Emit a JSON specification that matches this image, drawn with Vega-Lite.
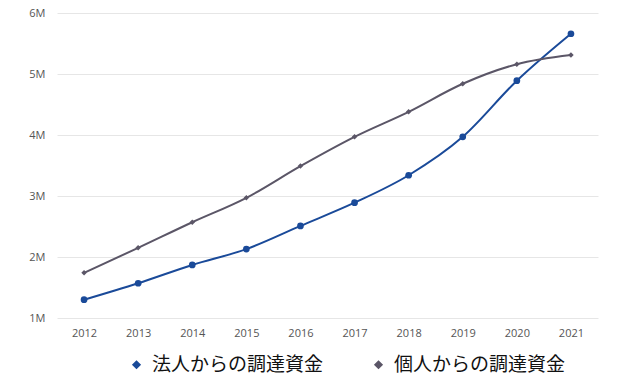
{
  "$schema": "https://vega.github.io/schema/vega-lite/v6.json",
  "width": 541,
  "height": 305,
  "autosize": "none",
  "padding": {"left": 57, "top": 13, "right": 42, "bottom": 71},
  "background": "white",
  "config": {"view": {"stroke": null}},
  "data": {
    "values": [
      {"year": "2012", "series": "法人からの調達資金", "value": 1300000},
      {"year": "2013", "series": "法人からの調達資金", "value": 1570000},
      {"year": "2014", "series": "法人からの調達資金", "value": 1870000},
      {"year": "2015", "series": "法人からの調達資金", "value": 2130000},
      {"year": "2016", "series": "法人からの調達資金", "value": 2510000},
      {"year": "2017", "series": "法人からの調達資金", "value": 2890000},
      {"year": "2018", "series": "法人からの調達資金", "value": 3340000},
      {"year": "2019", "series": "法人からの調達資金", "value": 3970000},
      {"year": "2020", "series": "法人からの調達資金", "value": 4890000},
      {"year": "2021", "series": "法人からの調達資金", "value": 5660000},
      {"year": "2012", "series": "個人からの調達資金", "value": 1740000},
      {"year": "2013", "series": "個人からの調達資金", "value": 2150000},
      {"year": "2014", "series": "個人からの調達資金", "value": 2570000},
      {"year": "2015", "series": "個人からの調達資金", "value": 2970000},
      {"year": "2016", "series": "個人からの調達資金", "value": 3490000},
      {"year": "2017", "series": "個人からの調達資金", "value": 3970000},
      {"year": "2018", "series": "個人からの調達資金", "value": 4380000},
      {"year": "2019", "series": "個人からの調達資金", "value": 4840000},
      {"year": "2020", "series": "個人からの調達資金", "value": 5160000},
      {"year": "2021", "series": "個人からの調達資金", "value": 5310000}
    ]
  },
  "encoding": {
    "x": {
      "field": "year", "type": "ordinal",
      "scale": {"type": "point", "padding": 0.5},
      "axis": {"title": null, "labelAngle": 0, "domain": false, "ticks": false, "grid": false,
               "labelFont": "Open Sans", "labelFontSize": 11, "labelColor": "#555555", "labelPadding": 9}
    },
    "y": {
      "field": "value", "type": "quantitative",
      "scale": {"domain": [1000000, 6000000], "nice": false},
      "axis": {"title": null, "values": [1000000, 2000000, 3000000, 4000000, 5000000, 6000000],
               "labelExpr": "(datum.value/1000000) + 'M'", "domain": false, "ticks": false,
               "gridColor": "#e6e6e6", "labelFont": "Open Sans", "labelFontSize": 11,
               "labelColor": "#555555", "labelPadding": 12}
    },
    "color": {
      "field": "series", "type": "nominal",
      "scale": {"domain": ["法人からの調達資金", "個人からの調達資金"], "range": ["#1a4a99", "#5b5667"]},
      "legend": {"title": null, "orient": "none", "legendX": 70, "legendY": 342, "direction": "horizontal",
                 "symbolType": "diamond", "symbolSize": 50, "labelFont": "Noto Sans CJK JP",
                 "labelFontSize": 19, "labelColor": "#111111", "columnPadding": 45,
                 "labelOffset": 6, "labelLimit": 400}
    }
  },
  "layer": [
    {"mark": {"type": "line", "interpolate": "monotone", "strokeWidth": 2}},
    {
      "transform": [{"filter": "datum.series === '法人からの調達資金'"}],
      "mark": {"type": "point", "filled": true, "opacity": 1, "shape": "circle", "size": 45}
    },
    {
      "transform": [{"filter": "datum.series === '個人からの調達資金'"}],
      "mark": {"type": "point", "filled": true, "opacity": 1, "shape": "diamond", "size": 30}
    }
  ]
}
